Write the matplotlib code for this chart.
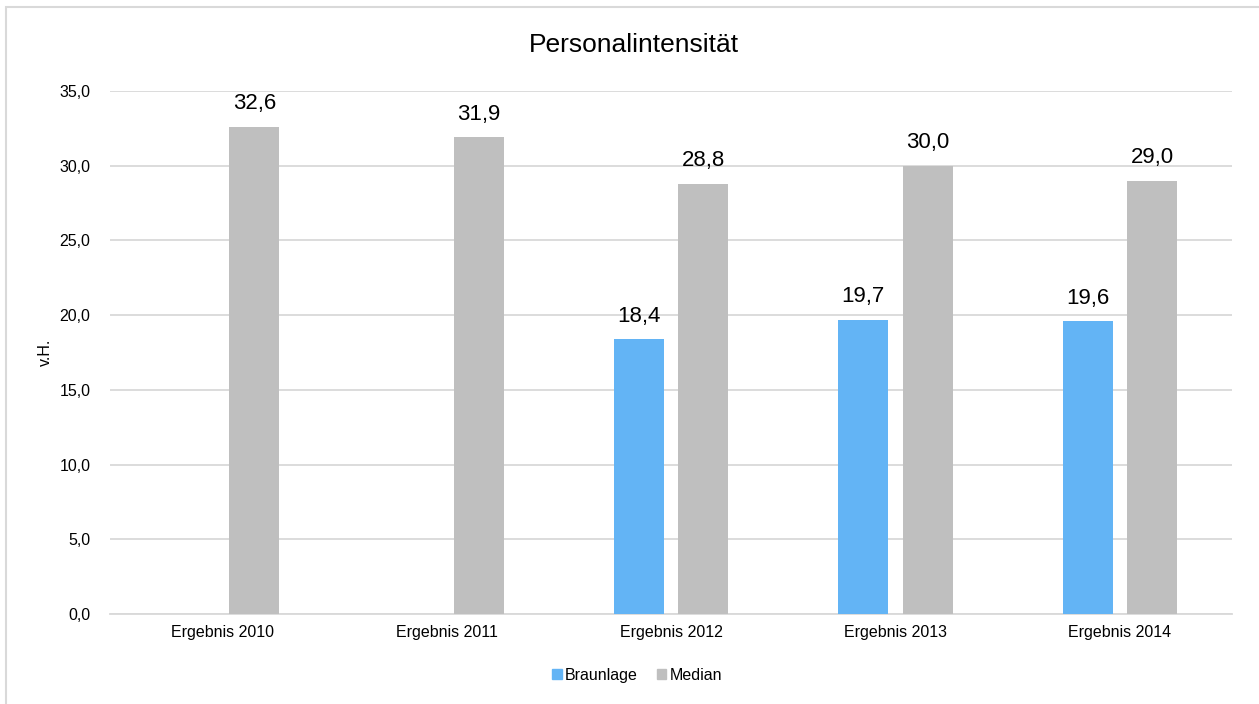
import matplotlib.pyplot as plt
import numpy as np
from matplotlib.patches import Rectangle

plt.rcParams['font.family'] = ['Liberation Sans', 'DejaVu Sans']

categories = ["Ergebnis 2010", "Ergebnis 2011", "Ergebnis 2012", "Ergebnis 2013", "Ergebnis 2014"]
braunlage = [None, None, 18.4, 19.7, 19.6]
median = [32.6, 31.9, 28.8, 30.0, 29.0]
yticks = [0, 5, 10, 15, 20, 25, 30, 35]

blue = "#63B4F5"
gray = "#BFBFBF"
grid = "#D9D9D9"

fig = plt.figure(figsize=(12.59, 7.04), dpi=100)
ax = fig.add_axes([0.0874, 0.1278, 0.8912, 0.7429])

x = np.arange(len(categories))
w = 0.223
off = 0.143

def fmt(v):
    return f"{v:.1f}".replace(".", ",")

for i, (b, m) in enumerate(zip(braunlage, median)):
    if b is not None:
        ax.bar(x[i] - off, b, w, color=blue, zorder=3)
        ax.annotate(fmt(b), (x[i] - off, b), xytext=(0, 9), textcoords="offset points",
                    ha="center", va="bottom", fontsize=16)
    ax.bar(x[i] + off, m, w, color=gray, zorder=3)
    ax.annotate(fmt(m), (x[i] + off, m), xytext=(0, 9), textcoords="offset points",
                ha="center", va="bottom", fontsize=16)

ax.set_xlim(-0.5, len(categories) - 0.5)
ax.set_ylim(0, 35)
ax.set_yticks(yticks)
ax.set_yticklabels([fmt(v) for v in yticks], fontsize=11.5)
ax.set_xticks(x)
ax.set_xticklabels(categories, fontsize=11.5)
ax.tick_params(length=0, pad=8)
ax.tick_params(axis="y", pad=14)
ax.grid(axis="y", color=grid, linewidth=1.3, zorder=0)
for s in ["top", "right", "left"]:
    ax.spines[s].set_visible(False)
ax.spines["bottom"].set_color(grid)
ax.spines["bottom"].set_linewidth(1.3)
fig.text(45 / 1259, 1 - 352 / 704, "v.H.", rotation=90, ha="center", va="center", fontsize=11.5)
fig.text(634 / 1259, 1 - 45 / 704, "Personalintensität", ha="center", va="center", fontsize=19)

handles = [Rectangle((0, 0), 1, 1, color=blue), Rectangle((0, 0), 1, 1, color=gray)]
fig.legend(handles, ["Braunlage", "Median"], loc="center", bbox_to_anchor=(0.506, 0.041),
           ncol=2, frameon=False, fontsize=11.5, handlelength=0.6, handleheight=0.6,
           handletextpad=0.2, columnspacing=1.2)

fig.patches.append(Rectangle((6 / 1259, -0.1), 1.2, 1 - 7 / 704 + 0.1, transform=fig.transFigure,
                             fill=False, edgecolor=grid, linewidth=1.5))

fig.savefig("out.png", dpi=100)
